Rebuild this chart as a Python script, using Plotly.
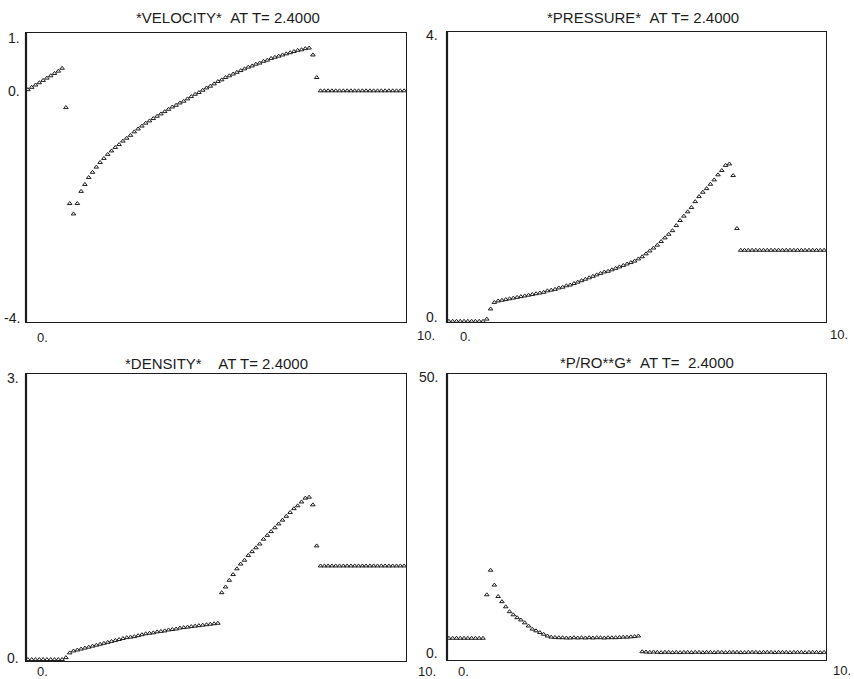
import plotly.graph_objects as go

# Cell centres of the 100-zone mesh on 0 <= X <= 10
cell_x = [round(0.05 + 0.1 * i, 2) for i in range(100)]

velocity = [
    0.02, 0.06, 0.10, 0.14, 0.18, 0.22, 0.26, 0.30, 0.34, 0.39,
    -0.29, -1.95, -2.13, -1.95,
    -1.74, -1.62, -1.50, -1.41, -1.32, -1.24, -1.17, -1.10, -1.04, -0.98,
    -0.93, -0.87, -0.82, -0.77, -0.71, -0.66, -0.61, -0.56, -0.52, -0.48,
    -0.44, -0.40, -0.36, -0.32, -0.28, -0.25, -0.21, -0.18, -0.14, -0.10,
    -0.06, -0.03, 0.01, 0.05, 0.08, 0.12, 0.16, 0.19, 0.23, 0.26,
    0.29, 0.32, 0.35, 0.38, 0.41, 0.43, 0.46, 0.48, 0.51, 0.53,
    0.56, 0.58, 0.60, 0.62, 0.64, 0.66, 0.68, 0.70, 0.71, 0.73,
    0.74, 0.62, 0.23,
    0.00, 0.00, 0.00, 0.00, 0.00, 0.00, 0.00, 0.00, 0.00, 0.00,
    0.00, 0.00, 0.00, 0.00, 0.00, 0.00, 0.00, 0.00, 0.00, 0.00,
    0.00, 0.00, 0.00,
]

pressure = [
    0.01, 0.01, 0.01, 0.01, 0.01, 0.01, 0.01, 0.01, 0.01, 0.01,
    0.04, 0.18, 0.27, 0.29,
    0.30, 0.31, 0.32, 0.33, 0.34, 0.35, 0.36, 0.37, 0.38, 0.39,
    0.40, 0.41, 0.43, 0.44, 0.45, 0.47, 0.48, 0.50, 0.51, 0.53,
    0.55, 0.57, 0.59, 0.61, 0.63, 0.65, 0.67, 0.69, 0.70, 0.72,
    0.74, 0.76, 0.78, 0.80, 0.82, 0.84, 0.87, 0.90, 0.94, 0.98,
    1.02, 1.06, 1.11, 1.16, 1.21, 1.26, 1.33, 1.40, 1.46, 1.52,
    1.58, 1.66, 1.73, 1.79, 1.84, 1.90, 1.96, 2.03, 2.09, 2.16,
    2.18, 2.02, 1.29,
    0.99, 0.99, 0.99, 0.99, 0.99, 0.99, 0.99, 0.99, 0.99, 0.99,
    0.99, 0.99, 0.99, 0.99, 0.99, 0.99, 0.99, 0.99, 0.99, 0.99,
    0.99, 0.99, 0.99,
]

density = [
    0.01, 0.01, 0.01, 0.01, 0.01, 0.01, 0.01, 0.01, 0.01, 0.01,
    0.03, 0.08, 0.10, 0.11,
    0.12, 0.13, 0.14, 0.15, 0.16, 0.17, 0.18, 0.19, 0.20, 0.21,
    0.22, 0.23, 0.24, 0.245, 0.25, 0.26, 0.27, 0.28, 0.285, 0.29,
    0.30, 0.305, 0.31, 0.32, 0.325, 0.33, 0.34, 0.345, 0.35, 0.355,
    0.36, 0.365, 0.37, 0.375, 0.38, 0.385, 0.39,
    0.71, 0.77, 0.84,
    0.90, 0.96, 1.01, 1.05, 1.10, 1.14, 1.18, 1.22, 1.27, 1.31,
    1.35, 1.39, 1.43, 1.47, 1.51, 1.55, 1.59, 1.62, 1.66, 1.70,
    1.71, 1.63, 1.20,
    0.99, 0.99, 0.99, 0.99, 0.99, 0.99, 0.99, 0.99, 0.99, 0.99,
    0.99, 0.99, 0.99, 0.99, 0.99, 0.99, 0.99, 0.99, 0.99, 0.99,
    0.99, 0.99, 0.99,
]

entropy = [
    3.8, 3.8, 3.8, 3.8, 3.8, 3.8, 3.8, 3.8, 3.8, 3.8,
    11.4, 15.7, 13.1, 11.1,
    10.2, 9.3, 8.45, 7.9, 7.4, 7.0, 6.5, 5.95, 5.4, 5.1,
    4.8, 4.5, 4.2, 4.0, 3.95, 3.9, 3.9, 3.85, 3.85, 3.9,
    3.85, 3.9, 3.85, 3.9, 3.85, 3.9, 3.9, 3.85, 3.9, 3.9,
    3.9, 3.95, 4.0, 4.0, 4.05, 4.1, 4.2,
    1.45, 1.40, 1.35, 1.40, 1.35, 1.30, 1.35, 1.35, 1.30, 1.35,
    1.30, 1.35, 1.35, 1.30, 1.35, 1.35, 1.30, 1.35, 1.35, 1.30,
    1.35, 1.35, 1.30, 1.35, 1.35, 1.35, 1.30, 1.30, 1.35, 1.35,
    1.35, 1.30, 1.35, 1.35, 1.35, 1.30, 1.35, 1.35, 1.35, 1.30,
    1.35, 1.35, 1.35, 1.30, 1.35, 1.35, 1.35, 1.30, 1.35,
]

NB = "\u00a0"
titles = [
    "*VELOCITY*" + NB * 2 + "AT T= 2.4000",
    "*PRESSURE*" + NB * 2 + "AT T= 2.4000",
    "*DENSITY*" + NB * 4 + "AT T= 2.4000",
    "*P/RO**G*" + NB * 2 + "AT T=" + NB * 2 + "2.4000",
]
series = [velocity, pressure, density, entropy]
y_ranges = [(-4, 1), (0, 4), (0, 3), (0, 50)]
y_tick_labels = [("-4.", "0.", "1."), ("0.", "4."), ("0.", "3."), ("0.", "50.")]
y_tick_values = [(-4, 0, 1), (0, 4), (0, 3), (0, 50)]
x_tick_labels = ("0.", "10.")
x_tick_values = (0, 10)

W, H = 854, 679
# panel boxes in pixels: left, right, top, bottom
boxes = [
    (26, 406, 33, 322),
    (447, 826, 32, 322),
    (26, 406, 374, 660.5),
    (447, 826, 374, 660),
]
title_dx = [12, 6, 0, 10]
title_dy = [16, 15, 11, 12]
# screen offsets (px, positive = downward) of the y value labels
ytick_down = [
    {-4: -4, 0: 0, 1: 5},
    {0: -5, 4: 3},
    {0: -3, 3: 4},
    {0: -7, 50: 3},
]
ytick_xshift = [-4, -7, -5, -7]
xtick_xshift = [(16, 20), (18, 13), (16, 21), (16, 16)]
xtick_drop = [(15, 13), (14, 12), (11, 11), (11, 10)]

ink = "#1c1c1c"
font_family = "Liberation Sans, Arial, Helvetica, sans-serif"

fig = go.Figure()
annotations = []
shapes = []

for k in range(4):
    l, r, t, b = boxes[k]
    suffix = "" if k == 0 else str(k + 1)
    xa, ya = "x" + suffix, "y" + suffix
    fig.add_trace(go.Scatter(
        x=cell_x, y=series[k], mode="markers",
        xaxis=xa, yaxis=ya, cliponaxis=False, showlegend=False,
        marker=dict(symbol="triangle-up-open", size=4, color=ink,
                    line=dict(width=1, color=ink)),
    ))
    axis_common = dict(showgrid=False, zeroline=False, showticklabels=False,
                       ticks="", showline=True, mirror=True,
                       linecolor=ink, linewidth=1.3)
    fig.layout["xaxis" + suffix] = dict(
        domain=[l / W, r / W], range=[0, 10], anchor=ya, **axis_common)
    fig.layout["yaxis" + suffix] = dict(
        domain=[1 - b / H, 1 - t / H], range=list(y_ranges[k]), anchor=xa,
        **axis_common)

    # heavier left frame edge
    shapes.append(dict(type="line", xref="paper", yref="paper",
                       x0=l / W, x1=l / W, y0=1 - b / H, y1=1 - t / H,
                       line=dict(color=ink, width=2.2)))

    # title above each panel
    annotations.append(dict(
        text=titles[k], xref="paper", yref="paper",
        x=((l + r) / 2 + title_dx[k]) / W, y=1 - (t - title_dy[k]) / H,
        xanchor="center", yanchor="middle", showarrow=False,
        font=dict(family=font_family, size=15, color=ink)))

    # y-axis value labels
    for val, lab in zip(y_tick_values[k], y_tick_labels[k]):
        annotations.append(dict(
            text=lab, xref=xa + " domain", yref=ya, x=0, y=val,
            xanchor="right", yanchor="middle", showarrow=False,
            xshift=ytick_xshift[k], yshift=-ytick_down[k][val],
            font=dict(family=font_family, size=14, color=ink)))

    # x-axis end labels
    for j, (val, lab) in enumerate(zip(x_tick_values, x_tick_labels)):
        annotations.append(dict(
            text=lab, xref=xa, yref=ya + " domain", x=val, y=0,
            xanchor="center", yanchor="middle", showarrow=False,
            xshift=xtick_xshift[k][j], yshift=-xtick_drop[k][j],
            font=dict(family=font_family, size=13, color=ink)))

fig.update_layout(
    width=W, height=H,
    margin=dict(l=0, r=0, t=0, b=0),
    paper_bgcolor="white", plot_bgcolor="white",
    annotations=annotations, shapes=shapes,
)

fig.write_html("out.html")
